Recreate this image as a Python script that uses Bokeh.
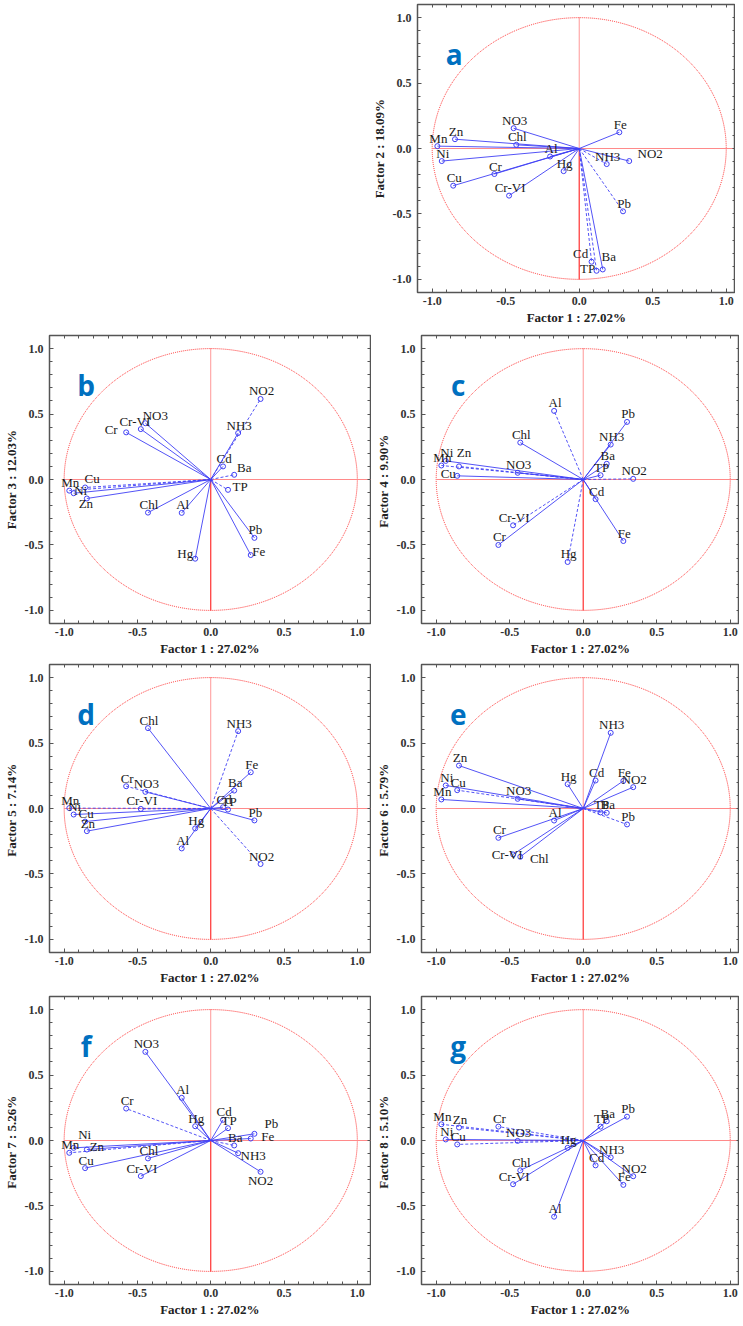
from bokeh.plotting import figure
from bokeh.models import (ColumnDataSource, FixedTicker, NumeralTickFormatter,
                          LinearAxis, Range1d, Spacer, Label)
from bokeh.layouts import column, row
from bokeh.embed import file_html
from bokeh.resources import INLINE
from bokeh.core.properties import value

# ---------------- data (factor loadings) ----------------
VARS = ["Mn", "Ni", "Zn", "Cu", "NO3", "Chl", "Cr", "Cr-VI", "Al", "Hg",
        "Fe", "NH3", "NO2", "Pb", "Cd", "TP", "Ba"]

F1 = [-0.965, -0.935, -0.845, -0.857, -0.446, -0.428, -0.577, -0.477, -0.198, -0.106,
      0.273, 0.187, 0.340, 0.298, 0.084, 0.118, 0.160]
F2 = [0.018, -0.096, 0.071, -0.284, 0.155, 0.028, -0.195, -0.360, -0.061, -0.173,
      0.124, -0.119, -0.096, -0.480, -0.865, -0.934, -0.924]
F3 = [-0.085, -0.105, -0.145, -0.061, 0.430, -0.253, 0.360, 0.385, -0.255, -0.605,
      -0.577, 0.355, 0.615, -0.446, 0.100, -0.079, 0.036]
F4 = [0.107, 0.142, 0.100, 0.028, 0.051, 0.282, -0.500, -0.350, 0.524, -0.630,
      -0.470, 0.267, 0.005, 0.440, -0.150, 0.033, 0.120]
F5 = [0.003, -0.046, -0.173, -0.100, 0.127, 0.614, 0.170, -0.003, -0.305, -0.152,
      0.277, 0.591, -0.424, -0.091, 0.010, -0.008, 0.137]
F6 = [0.069, 0.176, 0.328, 0.140, 0.074, -0.369, -0.224, -0.351, -0.092, 0.186,
      0.211, 0.578, 0.163, -0.122, 0.214, -0.030, -0.033]
F7 = [-0.094, -0.056, -0.069, -0.211, 0.677, -0.137, 0.244, -0.272, 0.326, 0.109,
      0.015, -0.097, -0.239, 0.051, 0.158, 0.094, -0.038]
F8 = [0.124, 0.008, 0.099, -0.030, -0.003, -0.228, 0.106, -0.334, -0.582, -0.056,
      -0.339, -0.129, -0.273, 0.182, -0.190, 0.106, 0.147]

X_TITLE = "Factor 1 : 27.02%"
Y_TITLES = ["Factor 2 : 18.09%", "Factor 3 : 12.03%", "Factor 4 :  9.90%",
            "Factor 5 :  7.14%", "Factor 6 :  5.79%", "Factor 7 :  5.26%",
            "Factor 8 :  5.10%"]
LETTERS = ["a", "b", "c", "d", "e", "f", "g"]
TICKS = [-1.0, -0.5, 0.0, 0.5, 1.0]
MINOR_TICKS = [-1.0, -0.9, -0.8, -0.7, -0.6, -0.5, -0.4, -0.3, -0.2, -0.1, 0.0,
               0.1, 0.2, 0.3, 0.4, 0.5, 0.6, 0.7, 0.8, 0.9, 1.0]

# ---------------- styling (not data) ----------------
DASHED = {
    "a": ["NH3", "Pb", "Cd", "TP"],
    "b": ["NO2", "Ba", "TP", "Cu", "Mn"],
    "c": ["Al", "NO2", "Cr-VI", "Hg", "Mn", "Zn"],
    "d": ["NH3", "NO2", "Cr", "Mn", "Cr-VI"],
    "e": ["Pb", "TP", "Cu"],
    "f": ["Cr", "Mn", "Ba"],
    "g": ["Mn", "Zn", "Cr", "Cu", "NO3"],
}
DEFAULT_OFF = (1, -8)
NUDGE = {
    "a": {"NO2": (21, -8), "Cd": (-11, -8), "TP": (-9, -2), "Ba": (6, -13)},
    "b": {"Ba": (10, -7), "TP": (12, -3), "Fe": (8, -4), "Hg": (-10, -5),
          "Zn": (-1, 5), "Cu": (7, -9), "Ni": (7, -3), "Cr": (-15, -3),
          "Cr-VI": (-6, -8), "NO3": (10, -8)},
    "c": {"Zn": (5, -14), "Cu": (-9, -2)},
    "d": {},
    "e": {"Cr-VI": (-6, 0), "Chl": (19, 2)},
    "f": {"Pb": (17, -10), "Fe": (17, -2), "NH3": (15, 2), "NO2": (0, 9),
          "Ni": (11, -13), "Zn": (10, -3)},
    "g": {},
}

BLUE = "#4040f5"
RED = "#ff3030"
LIGHT_RED = "#ff8a8a"
FRAME = "#555555"
SERIF = "Liberation Serif"


def style_axis(ax, show_labels):
    ax.axis_line_color = None
    ax.major_tick_in = 4
    ax.major_tick_out = 0
    ax.minor_tick_in = 3
    ax.minor_tick_out = 0
    ax.major_tick_line_color = FRAME
    ax.minor_tick_line_color = FRAME
    if show_labels:
        ax.ticker = FixedTicker(ticks=TICKS, minor_ticks=MINOR_TICKS)
        ax.formatter = NumeralTickFormatter(format="0.0")
        ax.major_label_text_font = SERIF
        ax.major_label_text_font_style = "bold"
        ax.major_label_text_font_size = "12px"
        ax.major_label_text_color = "#333333"
        ax.axis_label_text_font = SERIF
        ax.axis_label_text_font_style = "bold"
        ax.axis_label_text_font_size = "13px"
        ax.axis_label_text_color = "#222222"
    else:
        # tick marks only, no labels
        ax.ticker = FixedTicker(ticks=[], minor_ticks=MINOR_TICKS)
        ax.major_label_standoff = 0


def make_panel(letter, yvals, ytitle, left, top):
    if left:
        xr = Range1d(-1.1, 1.09)
        fw, bl, br = 321, 45, 1
    else:
        xr = Range1d(-1.1, 1.063)
        fw, bl, br = 318, 50, 0
    p = figure(frame_width=fw, frame_height=288, x_range=xr,
               y_range=Range1d(-1.1, 1.1), output_backend="svg",
               toolbar_location=None, min_border_left=bl, min_border_right=br,
               min_border_top=top, min_border_bottom=33)
    p.xgrid.visible = False
    p.ygrid.visible = False
    p.outline_line_color = FRAME
    p.outline_line_width = 1.5
    p.background_fill_color = "white"
    p.border_fill_color = "white"

    style_axis(p.xaxis[0], True)
    style_axis(p.yaxis[0], True)
    p.xaxis.axis_label = X_TITLE
    p.yaxis.axis_label = ytitle
    p.xaxis.major_label_standoff = 4
    p.xaxis.axis_label_standoff = 2
    p.yaxis.major_label_standoff = 6
    p.yaxis.axis_label_standoff = 3

    top_ax = LinearAxis()
    style_axis(top_ax, False)
    p.add_layout(top_ax, "above")
    right_ax = LinearAxis()
    style_axis(right_ax, False)
    p.add_layout(right_ax, "right")

    # unit circle and reference axes
    p.ellipse(x=0, y=0, width=2, height=2, fill_color=None, line_color=RED,
              line_width=1, line_dash="1 1")
    p.segment(x0=-1.0, y0=0.0, x1=1.1, y1=0.0, line_color=LIGHT_RED, line_width=1)
    p.segment(x0=0.0, y0=0.0, x1=0.0, y1=1.0, line_color=RED, line_width=1,
              line_dash="1 1")
    p.segment(x0=0.0, y0=-1.0, x1=0.0, y1=0.0, line_color=RED, line_width=1.2)

    dashed = DASHED[letter]
    nudges = NUDGE[letter]
    solid_src = ColumnDataSource(dict(
        x=[x for v, x in zip(VARS, F1) if v not in dashed],
        y=[y for v, y in zip(VARS, yvals) if v not in dashed]))
    dash_src = ColumnDataSource(dict(
        x=[x for v, x in zip(VARS, F1) if v in dashed],
        y=[y for v, y in zip(VARS, yvals) if v in dashed]))
    p.segment(x0=0, y0=0, x1="x", y1="y", source=solid_src, line_color=BLUE,
              line_width=1, line_alpha=0.9)
    p.segment(x0=0, y0=0, x1="x", y1="y", source=dash_src, line_color=BLUE,
              line_width=1, line_alpha=0.9, line_dash="3 2")

    src = ColumnDataSource(dict(
        x=F1, y=yvals, name=VARS,
        dx=[nudges.get(v, DEFAULT_OFF)[0] for v in VARS],
        dy=[nudges.get(v, DEFAULT_OFF)[1] for v in VARS]))
    p.scatter(x="x", y="y", source=src, marker="circle", size=5,
              fill_color=None, line_color=BLUE, line_width=1)
    p.text(x="x", y="y", text="name", x_offset="dx", y_offset="dy", source=src,
           text_font=value(SERIF), text_font_size="13px", text_align="center",
           text_baseline="middle", text_color="#1a1a1a")

    p.add_layout(Label(x=-0.85, y=0.72, text=letter, text_font="Open Sans",
                       text_font_style="bold", text_font_size="28px",
                       text_color="#0070C0", text_align="center",
                       text_baseline="alphabetic"))
    return p


YS = [F2, F3, F4, F5, F6, F7, F8]
pa = make_panel("a", YS[0], Y_TITLES[0], False, 4)
pb = make_panel("b", YS[1], Y_TITLES[1], True, 8)
pc = make_panel("c", YS[2], Y_TITLES[2], False, 8)
pd = make_panel("d", YS[3], Y_TITLES[3], True, 6)
pe = make_panel("e", YS[4], Y_TITLES[4], False, 6)
pf = make_panel("f", YS[5], Y_TITLES[5], True, 9)
pg = make_panel("g", YS[6], Y_TITLES[6], False, 9)

layout = column(
    row(Spacer(width=367, height=10), pa),
    row(pb, pc),
    row(pd, pe),
    row(pf, pg),
)

open("out.html", "w").write(file_html(layout, INLINE))
